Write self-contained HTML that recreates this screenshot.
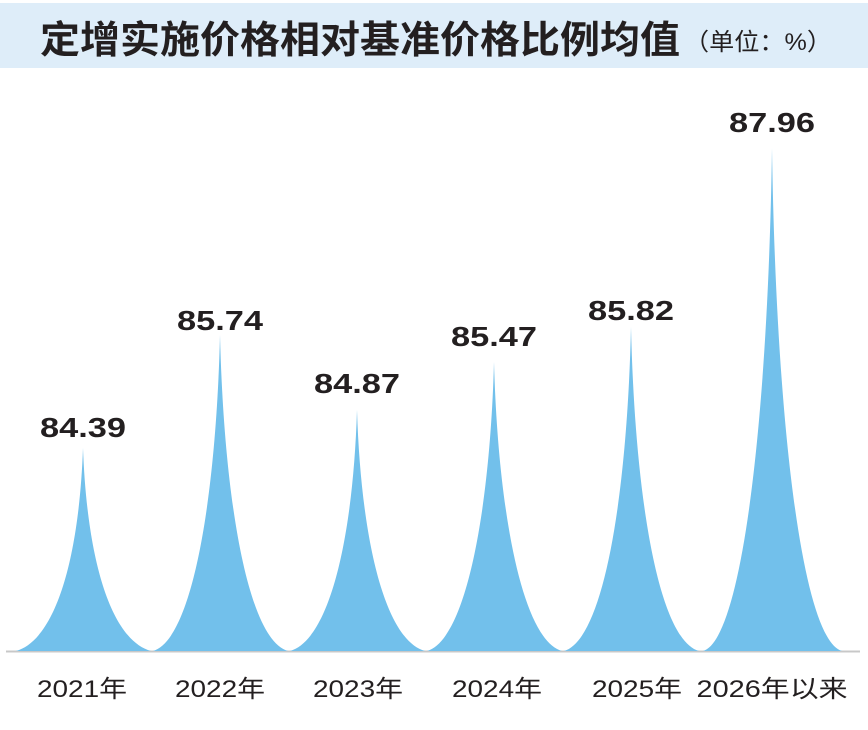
<!DOCTYPE html>
<html><head><meta charset="utf-8"><style>
body{margin:0;width:868px;height:730px;background:#fff;overflow:hidden}
</style></head><body>
<svg width="868" height="730" xmlns="http://www.w3.org/2000/svg" style="position:absolute;left:0;top:0">
<rect x="0" y="3" width="868" height="65" fill="#deedf9"/>
<text x="40" y="53" textLength="640" lengthAdjust="spacingAndGlyphs" font-family="Liberation Sans, Noto Sans CJK SC, sans-serif" font-size="38" font-weight="bold" fill="#231f20">定增实施价格相对基准价格比例均值</text>
<text x="684" y="50" textLength="148" lengthAdjust="spacingAndGlyphs" font-family="Liberation Sans, Noto Sans CJK SC, sans-serif" font-size="24" fill="#231f20">（单位：%）</text>
<line x1="6" y1="651.5" x2="860" y2="651.5" stroke="#c8c8c8" stroke-width="2"/>
<g fill="#72c0eb">
<path d="M16,651 C55,640 79,560 83,448 C87,560 111,640 151,651Z"/>
<path d="M153,651 C192,640 216,500 220,335 C224,500 248,640 288,651Z"/>
<path d="M290,651 C329,640 353,540 357,410 C361,540 385,640 425,651Z"/>
<path d="M427,651 C466,640 490,510 494,362 C498,510 522,640 562,651Z"/>
<path d="M564,651 C603,640 627,500 631,327 C635,500 659,640 699,651Z"/>
<path d="M703,651 C742,640 768,420 772,148 C776,420 802,640 842,651Z"/>
</g>
<g font-family="Liberation Sans, sans-serif" font-size="28" font-weight="bold" fill="#231f20" text-anchor="middle" lengthAdjust="spacingAndGlyphs">
<text x="83" y="437" textLength="86" lengthAdjust="spacingAndGlyphs">84.39</text>
<text x="220" y="330" textLength="86" lengthAdjust="spacingAndGlyphs">85.74</text>
<text x="357" y="393" textLength="86" lengthAdjust="spacingAndGlyphs">84.87</text>
<text x="494" y="346" textLength="86" lengthAdjust="spacingAndGlyphs">85.47</text>
<text x="631" y="320" textLength="86" lengthAdjust="spacingAndGlyphs">85.82</text>
<text x="772" y="132" textLength="86" lengthAdjust="spacingAndGlyphs">87.96</text>
</g>
<g font-family="Liberation Sans, Noto Sans CJK SC, sans-serif" font-size="24" fill="#231f20" text-anchor="middle">
<text x="82" y="697" textLength="90" lengthAdjust="spacingAndGlyphs">2021年</text>
<text x="220" y="697" textLength="90" lengthAdjust="spacingAndGlyphs">2022年</text>
<text x="358" y="697" textLength="90" lengthAdjust="spacingAndGlyphs">2023年</text>
<text x="497" y="697" textLength="90" lengthAdjust="spacingAndGlyphs">2024年</text>
<text x="637" y="697" textLength="90" lengthAdjust="spacingAndGlyphs">2025年</text>
<text x="772" y="697" textLength="151" lengthAdjust="spacingAndGlyphs">2026年以来</text>
</g>
</svg>
</body></html>
